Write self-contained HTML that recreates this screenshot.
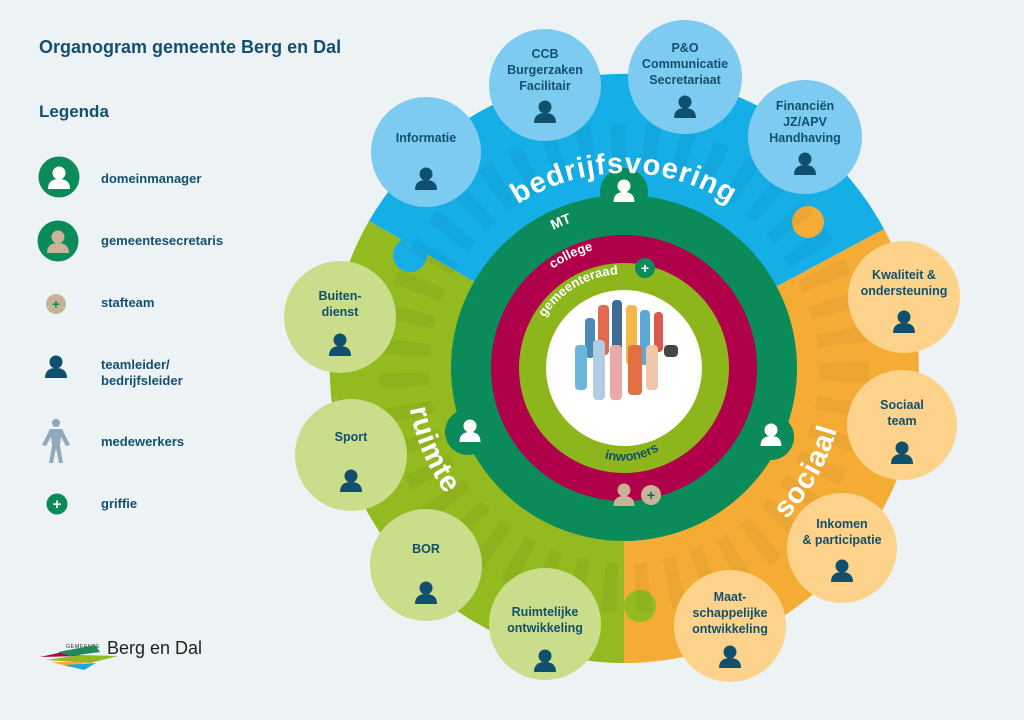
<!DOCTYPE html>
<html><head><meta charset="utf-8"><style>
html,body{margin:0;padding:0;background:#edf2f5;}
svg{display:block;font-family:"Liberation Sans",Arial,sans-serif;font-weight:bold;}
</style></head><body>
<svg width="1024" height="720" viewBox="0 0 1024 720" xmlns="http://www.w3.org/2000/svg">
<defs>
<g id="p"><circle cx="0" cy="-8" r="6.5"/><path d="M-11,8 Q-11,-2 0,-2 Q11,-2 11,8 Z"/></g>
<g id="pb"><circle cx="0" cy="-7" r="6.5"/><path d="M-10.5,9 Q-10.5,-1 0,-1 Q10.5,-1 10.5,9 Z"/></g>
<path id="arcTop" d="M 429,368 A 195,195 0 0 1 819,368"/>
<path id="arcLeft" d="M 435,259 A 218,218 0 0 0 515,557"/>
<path id="arcRight" d="M 781,525 A 222,222 0 0 0 838,311"/>
<path id="arcMT" d="M 469,368 A 155,155 0 0 1 779,368"/>
<path id="arcCol" d="M 502,368 A 122,122 0 0 1 746,368"/>
<path id="arcGem" d="M 530,368 A 94,94 0 0 1 718,368"/>
<path id="arcInw" d="M 560,420 A 68,68 0 0 0 690,400"/>
</defs>
<rect width="1024" height="720" fill="#edf2f5"/>

<text x="39" y="53" font-size="18" fill="#14506e">Organogram gemeente Berg en Dal</text>
<text x="39" y="117" font-size="17" fill="#14506e">Legenda</text>
<g font-size="13" fill="#14506e">
<text x="101" y="183">domeinmanager</text>
<text x="101" y="245">gemeentesecretaris</text>
<text x="101" y="307">stafteam</text>
<text x="101" y="369">teamleider/</text>
<text x="101" y="385">bedrijfsleider</text>
<text x="101" y="446">medewerkers</text>
<text x="101" y="508">griffie</text>
</g>
<circle cx="59" cy="177" r="20.5" fill="#0b8a5a"/><use href="#p" x="59" y="181" fill="#fff"/>
<circle cx="58" cy="241" r="20.5" fill="#0b8a5a"/><use href="#p" x="58" y="245" fill="#c9b396"/>
<circle cx="56" cy="304" r="10" fill="#c9b396"/><text x="56" y="309" font-size="14" fill="#0b8a5a" text-anchor="middle">+</text>
<use href="#p" x="56" y="370" fill="#10506e"/>
<g fill="#8fa9b8"><circle cx="56" cy="423" r="4"/><path d="M50,429 L62,429 L70,445 L66,446 L61,437 L60,446 L63,463 L59,463 L56,448 L53,463 L49,463 L52,446 L51,437 L46,446 L42,445 Z"/></g>
<circle cx="57" cy="504" r="10.5" fill="#0b8a5a"/><text x="57" y="509" font-size="15" fill="#fff" text-anchor="middle">+</text>

<text x="66" y="648" font-size="5.5" fill="#333" font-weight="normal" letter-spacing="0.4">GEMEENTE</text>
<text x="107" y="654" font-size="18" fill="#222" font-weight="normal">Berg en Dal</text>
<path d="M40,657 L72,650 L82,656 Z" fill="#b0004a"/>
<path d="M58,652 L95,645 L100,652 L70,656 Z" fill="#1f8a5a"/>
<path d="M46,660 L80,655 L118,656 L90,663 Z" fill="#93ba1f"/>
<path d="M52,662 L88,662 L70,667 Z" fill="#f5a933"/>
<path d="M64,665 L96,663 L84,670 Z" fill="#1aa8e0"/>

<g>
<path d="M624,368 L369,221 A295,295 0 0 1 884,229 Z" fill="#15aee6"/>
<path d="M624,368 L884,229 A295,295 0 0 1 624,663 Z" fill="#f5ac35"/>
<path d="M624,368 L624,663 A295,295 0 0 1 369,221 Z" fill="#93ba1f"/>
<circle cx="410" cy="255" r="17" fill="#15aee6"/>
<circle cx="808" cy="222" r="16" fill="#f5ac35"/>
<circle cx="640" cy="606" r="16" fill="#93ba1f"/>
</g>
<circle cx="624" cy="368" r="220" fill="none" stroke="#000" stroke-opacity="0.04" stroke-width="50" stroke-dasharray="14 18"/>

<circle cx="624" cy="368" r="173" fill="#0b8a5a"/>
<circle cx="624" cy="192" r="24" fill="#0b8a5a"/>
<circle cx="468" cy="432" r="23" fill="#0b8a5a"/>
<circle cx="771" cy="437" r="23" fill="#0b8a5a"/>
<ellipse cx="634" cy="494" rx="32" ry="26" fill="#0b8a5a"/>
<circle cx="624" cy="368" r="133" fill="#b0004a"/>
<circle cx="624" cy="368" r="105" fill="#8cb61c"/>
<circle cx="624" cy="368" r="78" fill="#fff"/>
<g opacity="0.9">
<rect x="585" y="318" width="10" height="40" rx="4" fill="#3a7fb0"/>
<rect x="598" y="305" width="11" height="50" rx="4" fill="#e05a3a"/>
<rect x="612" y="300" width="10" height="55" rx="4" fill="#2a5d8a"/>
<rect x="626" y="305" width="11" height="60" rx="4" fill="#f2b134"/>
<rect x="640" y="310" width="10" height="55" rx="4" fill="#4a9fd0"/>
<rect x="654" y="312" width="9" height="40" rx="4" fill="#d44a3a"/>
<rect x="575" y="345" width="12" height="45" rx="4" fill="#5ab0d8"/>
<rect x="593" y="340" width="12" height="60" rx="4" fill="#a8c8e0"/>
<rect x="610" y="345" width="12" height="55" rx="4" fill="#e8a0a0"/>
<rect x="628" y="345" width="14" height="50" rx="4" fill="#e06030"/>
<rect x="646" y="345" width="12" height="45" rx="4" fill="#f0c0a0"/>
<rect x="664" y="345" width="14" height="12" rx="4" fill="#333"/>
</g>

<use href="#pb" x="624" y="193" fill="#fff"/>
<use href="#pb" x="470" y="433" fill="#fff"/>
<use href="#pb" x="771" y="437" fill="#fff"/>
<use href="#pb" x="624" y="497" fill="#c9b396"/>
<circle cx="651" cy="495" r="10" fill="#c9b396"/><text x="651" y="500" font-size="14" fill="#0b6a4a" text-anchor="middle">+</text>
<circle cx="645" cy="268" r="10" fill="#0b8a5a"/><text x="645" y="273" font-size="14" fill="#fff" text-anchor="middle">+</text>

<text font-size="29" fill="#fff" letter-spacing="1"><textPath href="#arcTop" startOffset="50%" text-anchor="middle">bedrijfsvoering</textPath></text>
<text font-size="29" fill="#fff" letter-spacing="1"><textPath href="#arcLeft" startOffset="59%" text-anchor="middle">ruimte</textPath></text>
<text font-size="29" fill="#fff" letter-spacing="1"><textPath href="#arcRight" startOffset="26%" text-anchor="middle">sociaal</textPath></text>
<text font-size="14" fill="#fff"><textPath href="#arcMT" startOffset="37%" text-anchor="middle">MT</textPath></text>
<text font-size="13" fill="#fff"><textPath href="#arcCol" startOffset="36%" text-anchor="middle">college</textPath></text>
<text font-size="13" fill="#fff"><textPath href="#arcGem" startOffset="33%" text-anchor="middle">gemeenteraad</textPath></text>
<text font-size="13" fill="#14506e"><textPath href="#arcInw" startOffset="50%" text-anchor="middle">inwoners</textPath></text>

<g font-size="12.5" fill="#14506e" text-anchor="middle">
<circle cx="426" cy="152" r="55" fill="#7dcbf0"/>
<text x="426" y="142">Informatie</text><use href="#p" x="426" y="182" fill="#10506e"/>
<circle cx="545" cy="85" r="56" fill="#7dcbf0"/>
<text x="545" y="58">CCB</text><text x="545" y="74">Burgerzaken</text><text x="545" y="90">Facilitair</text><use href="#p" x="545" y="115" fill="#10506e"/>
<circle cx="685" cy="77" r="57" fill="#7dcbf0"/>
<text x="685" y="52">P&amp;O</text><text x="685" y="68">Communicatie</text><text x="685" y="84">Secretariaat</text><use href="#p" x="685" y="110" fill="#10506e"/>
<circle cx="805" cy="137" r="57" fill="#7dcbf0"/>
<text x="805" y="110">Financiën</text><text x="805" y="126">JZ/APV</text><text x="805" y="142">Handhaving</text><use href="#p" x="805" y="167" fill="#10506e"/>

<circle cx="904" cy="297" r="56" fill="#fdd38b"/>
<text x="904" y="279">Kwaliteit &amp;</text><text x="904" y="295">ondersteuning</text><use href="#p" x="904" y="325" fill="#10506e"/>
<circle cx="902" cy="425" r="55" fill="#fdd38b"/>
<text x="902" y="409">Sociaal</text><text x="902" y="425">team</text><use href="#p" x="902" y="456" fill="#10506e"/>
<circle cx="842" cy="548" r="55" fill="#fdd38b"/>
<text x="842" y="528">Inkomen</text><text x="842" y="544">&amp; participatie</text><use href="#p" x="842" y="574" fill="#10506e"/>
<circle cx="730" cy="626" r="56" fill="#fdd38b"/>
<text x="730" y="601">Maat-</text><text x="730" y="617">schappelijke</text><text x="730" y="633">ontwikkeling</text><use href="#p" x="730" y="660" fill="#10506e"/>

<circle cx="545" cy="624" r="56" fill="#c9dd8b"/>
<text x="545" y="616">Ruimtelijke</text><text x="545" y="632">ontwikkeling</text><use href="#p" x="545" y="664" fill="#10506e"/>
<circle cx="426" cy="565" r="56" fill="#c9dd8b"/>
<text x="426" y="553">BOR</text><use href="#p" x="426" y="596" fill="#10506e"/>
<circle cx="351" cy="455" r="56" fill="#c9dd8b"/>
<text x="351" y="441">Sport</text><use href="#p" x="351" y="484" fill="#10506e"/>
<circle cx="340" cy="317" r="56" fill="#c9dd8b"/>
<text x="340" y="300">Buiten-</text><text x="340" y="316">dienst</text><use href="#p" x="340" y="348" fill="#10506e"/>
</g>
</svg>
</body></html>
